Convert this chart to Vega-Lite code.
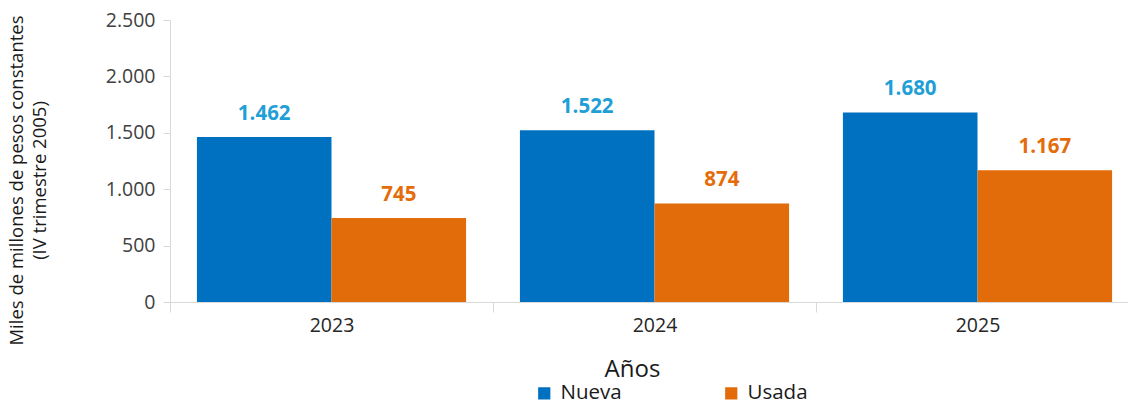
{
  "$schema": "https://vega.github.io/schema/vega-lite/v6.json",
  "width": 958,
  "height": 282,
  "autosize": {"type": "none"},
  "padding": {"left": 170, "top": 20, "right": 0, "bottom": 107},
  "background": "white",
  "config": {
    "font": "Open Sans",
    "view": {"stroke": null},
    "locale": {"number": {"decimal": ",", "thousands": ".", "grouping": [3], "currency": ["$", ""]}}
  },
  "data": {
    "values": [
      {"anio": "2023", "tipo": "Nueva", "valor": 1462},
      {"anio": "2023", "tipo": "Usada", "valor": 745},
      {"anio": "2024", "tipo": "Nueva", "valor": 1522},
      {"anio": "2024", "tipo": "Usada", "valor": 874},
      {"anio": "2025", "tipo": "Nueva", "valor": 1680},
      {"anio": "2025", "tipo": "Usada", "valor": 1167}
    ]
  },
  "encoding": {
    "x": {
      "field": "anio", "type": "nominal",
      "scale": {"range": [0, 969], "paddingInner": 0, "paddingOuter": 0},
      "axis": {
        "title": "Años", "titleFontSize": 24, "titleFontWeight": "normal", "titleColor": "#1a1a1a",
        "titleX": 462, "titleY": 55, "titleBaseline": "top", "titleAlign": "center",
        "labelAngle": 0, "labelFontSize": 19.5, "labelColor": "#262626", "labelPadding": 4,
        "tickBand": "extent", "tickSize": 10, "tickColor": "#d9d9d9", "domainColor": "#d9d9d9"
      }
    },
    "xOffset": {"field": "tipo", "type": "nominal", "scale": {"paddingOuter": 0.2, "paddingInner": 0}},
    "y": {
      "field": "valor", "type": "quantitative",
      "scale": {"domain": [0, 2500]},
      "axis": {
        "title": ["Miles de millones de pesos constantes", "(IV trimestre 2005)"],
        "titleFontSize": 18.5, "titleFontWeight": "normal", "titleColor": "#1a1a1a", "titleLineHeight": 23,
        "titleX": -163, "titleY": 160, "titleBaseline": "top", "titleAlign": "center", "titleAngle": -90,
        "values": [0, 500, 1000, 1500, 2000, 2500], "format": ",d",
        "labelFontSize": 19.5, "labelColor": "#404040", "labelPadding": 8,
        "grid": false, "tickSize": 7, "tickColor": "#d9d9d9", "domainColor": "#d9d9d9"
      }
    }
  },
  "layer": [
    {
      "mark": {"type": "bar"},
      "encoding": {
        "color": {
          "field": "tipo", "type": "nominal",
          "scale": {"domain": ["Nueva", "Usada"], "range": ["#0070c0", "#e36c0a"]},
          "legend": {
            "title": null, "orient": "none", "direction": "horizontal",
            "legendX": 364, "legendY": 363,
            "symbolType": "square", "symbolSize": 150, "symbolStrokeWidth": 0,
            "labelFontSize": 20.5, "labelColor": "#1a1a1a", "labelOffset": 6,
            "columnPadding": 99
          }
        }
      }
    },
    {
      "mark": {"type": "text", "dy": -23, "fontSize": 20.5, "fontWeight": "bold", "baseline": "middle"},
      "encoding": {
        "text": {"field": "valor", "type": "quantitative", "format": ",d"},
        "color": {"condition": {"test": "datum.tipo === 'Nueva'", "value": "#1f9fd5"}, "value": "#e46c0a"}
      }
    }
  ]
}
